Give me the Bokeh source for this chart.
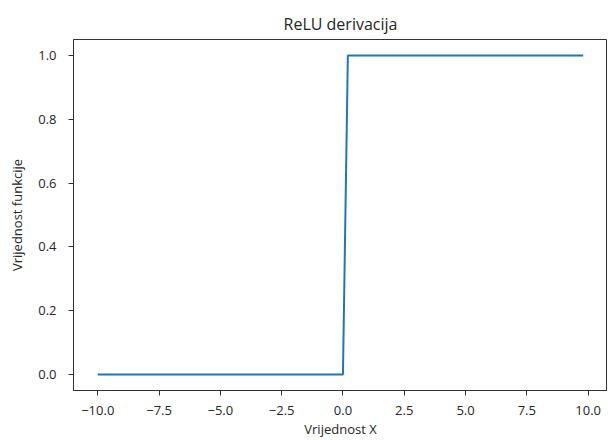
from bokeh.plotting import figure
from bokeh.models import Range1d, FixedTicker
from bokeh.embed import file_html
from bokeh.resources import INLINE

# Data (ReLU derivative, step at 0)
x_values = [-10.0, 0.0, 0.2, 9.8]
y_values = [0.0, 0.0, 1.0, 1.0]

x_ticks = [-10.0, -7.5, -5.0, -2.5, 0.0, 2.5, 5.0, 7.5, 10.0]
x_tick_labels = ["\u221210.0", "\u22127.5", "\u22125.0", "\u22122.5", "0.0", "2.5", "5.0", "7.5", "10.0"]
y_ticks = [0.0, 0.2, 0.4, 0.6, 0.8, 1.0]
y_tick_labels = ["0.0", "0.2", "0.4", "0.6", "0.8", "1.0"]

title_text = "ReLU derivacija"
x_label = "Vrijednost X"
y_label = "Vrijednost funkcije"

FONT = "Open Sans"

p = figure(
    output_backend="svg", toolbar_location=None,
    frame_width=534, frame_height=351,
    min_border_left=73, min_border_right=0, min_border_top=39, min_border_bottom=48,
    x_range=Range1d(-10.99, 10.79), y_range=Range1d(-0.05, 1.05),
    title=title_text,
)
p.title.align = "center"
p.title.text_font = FONT
p.title.text_font_size = "16px"
p.title.text_font_style = "normal"
p.title.text_color = "#262626"
p.title.offset = 0

p.line(x_values, y_values, line_color="#1f77b4", line_width=2)

p.xgrid.visible = False
p.ygrid.visible = False
p.outline_line_color = "#333333"
p.outline_line_width = 1
p.outline_line_alpha = 1.0

for ax in (p.xaxis[0], p.yaxis[0]):
    ax.axis_line_color = "#333333"
    ax.major_tick_line_color = "#333333"
    ax.major_tick_out = 5
    ax.major_tick_in = 0
    ax.minor_tick_line_color = None
    ax.major_label_text_font = FONT
    ax.major_label_text_font_size = "13px"
    ax.major_label_text_color = "#262626"
    ax.axis_label_text_font = FONT
    ax.axis_label_text_font_size = "13px"
    ax.axis_label_text_font_style = "normal"
    ax.axis_label_text_color = "#262626"

p.xaxis.ticker = FixedTicker(ticks=x_ticks)
p.xaxis.major_label_overrides = {t: l for t, l in zip(x_ticks, x_tick_labels)}
p.yaxis.ticker = FixedTicker(ticks=y_ticks)
p.yaxis.major_label_overrides = {t: l for t, l in zip(y_ticks, y_tick_labels)}
p.xaxis.axis_label = x_label
p.yaxis.axis_label = y_label
p.xaxis.major_label_standoff = 10
p.yaxis.major_label_standoff = 12
p.xaxis.axis_label_standoff = 2
p.yaxis.axis_label_standoff = 9

open("out.html", "w").write(file_html(p, INLINE))
